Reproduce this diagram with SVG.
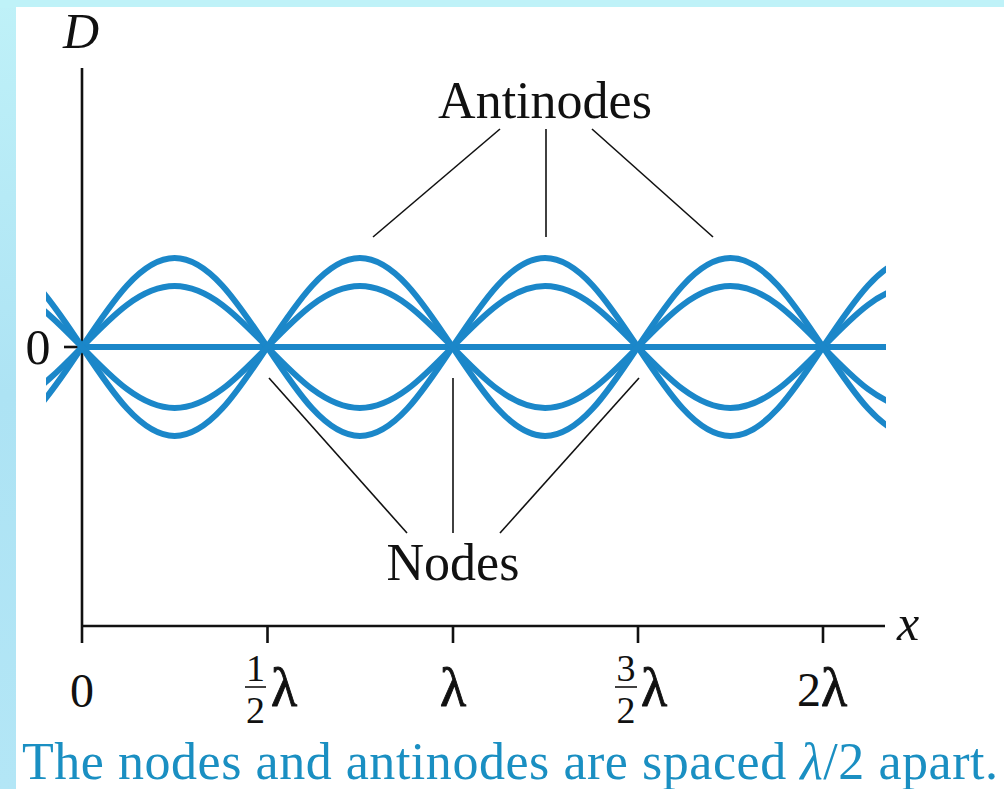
<svg xmlns="http://www.w3.org/2000/svg" width="1004" height="789" viewBox="0 0 1004 789">
<style>
.wave{fill:none;stroke:#1b87c9;stroke-width:6;stroke-linecap:butt}
.ax{stroke:#111;stroke-width:2.6;fill:none}
.lead{stroke:#111;stroke-width:1.6;fill:none}
.t{font-family:"Liberation Serif","Times New Roman",serif;fill:#111}
.it{font-style:italic}
.fr{font-size:38px}
.lam{font-size:54px;stroke:#111;stroke-width:0.9}
.cap{font-family:"Liberation Serif","Times New Roman",serif;fill:#1a8fc2}
</style>
<defs>
<linearGradient id="bg" x1="0" y1="0" x2="0" y2="1">
<stop offset="0" stop-color="#bff1f8"/>
<stop offset="0.5" stop-color="#ade3f4"/>
<stop offset="1" stop-color="#b3e6f6"/>
</linearGradient>
<clipPath id="wclip"><rect x="46" y="200" width="840" height="300"/></clipPath>
</defs>
<rect x="0" y="0" width="1004" height="789" fill="url(#bg)"/>
<rect x="0" y="0" width="1004" height="8" fill="#bff2f8"/>
<rect x="16" y="7" width="988" height="782" fill="#ffffff"/>

<g id="axes">
<line class="ax" x1="82" y1="68" x2="82" y2="643"/>
<line class="ax" x1="82" y1="626" x2="885" y2="626"/>
<line class="ax" x1="64" y1="347" x2="82" y2="347"/>
<line class="ax" x1="267.5" y1="626" x2="267.5" y2="643"/>
<line class="ax" x1="453" y1="626" x2="453" y2="643"/>
<line class="ax" x1="638" y1="626" x2="638" y2="643"/>
<line class="ax" x1="823" y1="626" x2="823" y2="643"/>
<text class="t it" x="63" y="48" font-size="50">D</text>
<text class="t it" x="897" y="640" font-size="50">x</text>
<text class="t" x="38" y="364" font-size="50" text-anchor="middle">0</text>
</g>

<g id="tick-labels">
<text class="t" x="82" y="707" font-size="48" text-anchor="middle">0</text>
<g id="half">
<text class="t fr" x="255.5" y="681" text-anchor="middle">1</text>
<line x1="245" y1="687" x2="266" y2="687" stroke="#111" stroke-width="1.6"/>
<text class="t fr" x="255.5" y="723" text-anchor="middle">2</text>
<text class="t lam" x="271" y="706">λ</text>
</g>
<text class="t lam" x="453" y="706" text-anchor="middle">λ</text>
<g id="threehalves">
<text class="t fr" x="626" y="681" text-anchor="middle">3</text>
<line x1="615" y1="687" x2="637" y2="687" stroke="#111" stroke-width="1.6"/>
<text class="t fr" x="626" y="723" text-anchor="middle">2</text>
<text class="t lam" x="641" y="706">λ</text>
</g>
<text class="t" x="797" y="706" font-size="48">2<tspan class="lam">λ</tspan></text>
</g>

<g id="waves" clip-path="url(#wclip)">
<line class="wave" x1="82" y1="347" x2="886" y2="347"/>
<path class="wave" d="M-103.25,347 C-73.04,392.59 -44.15,436 -10.63,436 C22.9,436 51.79,392.59 82,347 C112.21,301.41 141.1,258 174.63,258 C208.15,258 237.04,301.41 267.25,347 C297.46,392.59 326.35,436 359.88,436 C393.4,436 422.29,392.59 452.5,347 C482.71,301.41 511.6,258 545.13,258 C578.65,258 607.54,301.41 637.75,347 C667.96,392.59 696.85,436 730.38,436 C763.9,436 792.79,392.59 823,347 C853.21,301.41 882.1,258 915.63,258 C949.15,258 978.04,301.41 1008.25,347"/>
<path class="wave" d="M-103.25,347 C-73.04,301.41 -44.15,258 -10.63,258 C22.9,258 51.79,301.41 82,347 C112.21,392.59 141.1,436 174.63,436 C208.15,436 237.04,392.59 267.25,347 C297.46,301.41 326.35,258 359.88,258 C393.4,258 422.29,301.41 452.5,347 C482.71,392.59 511.6,436 545.13,436 C578.65,436 607.54,392.59 637.75,347 C667.96,301.41 696.85,258 730.38,258 C763.9,258 792.79,301.41 823,347 C853.21,392.59 882.1,436 915.63,436 C949.15,436 978.04,392.59 1008.25,347"/>
<path class="wave" d="M-103.25,347 C-73.04,378.25 -44.15,408 -10.63,408 C22.9,408 51.79,378.25 82,347 C112.21,315.75 141.1,286 174.63,286 C208.15,286 237.04,315.75 267.25,347 C297.46,378.25 326.35,408 359.88,408 C393.4,408 422.29,378.25 452.5,347 C482.71,315.75 511.6,286 545.13,286 C578.65,286 607.54,315.75 637.75,347 C667.96,378.25 696.85,408 730.38,408 C763.9,408 792.79,378.25 823,347 C853.21,315.75 882.1,286 915.63,286 C949.15,286 978.04,315.75 1008.25,347"/>
<path class="wave" d="M-103.25,347 C-73.04,315.75 -44.15,286 -10.63,286 C22.9,286 51.79,315.75 82,347 C112.21,378.25 141.1,408 174.63,408 C208.15,408 237.04,378.25 267.25,347 C297.46,315.75 326.35,286 359.88,286 C393.4,286 422.29,315.75 452.5,347 C482.71,378.25 511.6,408 545.13,408 C578.65,408 607.54,378.25 637.75,347 C667.96,315.75 696.85,286 730.38,286 C763.9,286 792.79,315.75 823,347 C853.21,378.25 882.1,408 915.63,408 C949.15,408 978.04,378.25 1008.25,347"/>
</g>

<g id="connectors">
<line class="lead" x1="500" y1="129" x2="373" y2="237"/>
<line class="lead" x1="546" y1="129" x2="546" y2="237"/>
<line class="lead" x1="592" y1="129" x2="713" y2="237"/>
<line class="lead" x1="269" y1="378" x2="407" y2="533"/>
<line class="lead" x1="453" y1="378" x2="453" y2="533"/>
<line class="lead" x1="639" y1="378" x2="500" y2="533"/>
</g>

<g id="antinodes-label">
<text class="t" x="545" y="118" font-size="52" text-anchor="middle">Antinodes</text>
</g>
<g id="nodes-label">
<text class="t" x="453" y="580" font-size="52" text-anchor="middle">Nodes</text>
</g>

<g id="caption">
<text class="cap" x="22" y="779" font-size="52" textLength="976" lengthAdjust="spacing">The nodes and antinodes are spaced <tspan font-style="italic">λ</tspan>/2 apart.</text>
</g>
</svg>
